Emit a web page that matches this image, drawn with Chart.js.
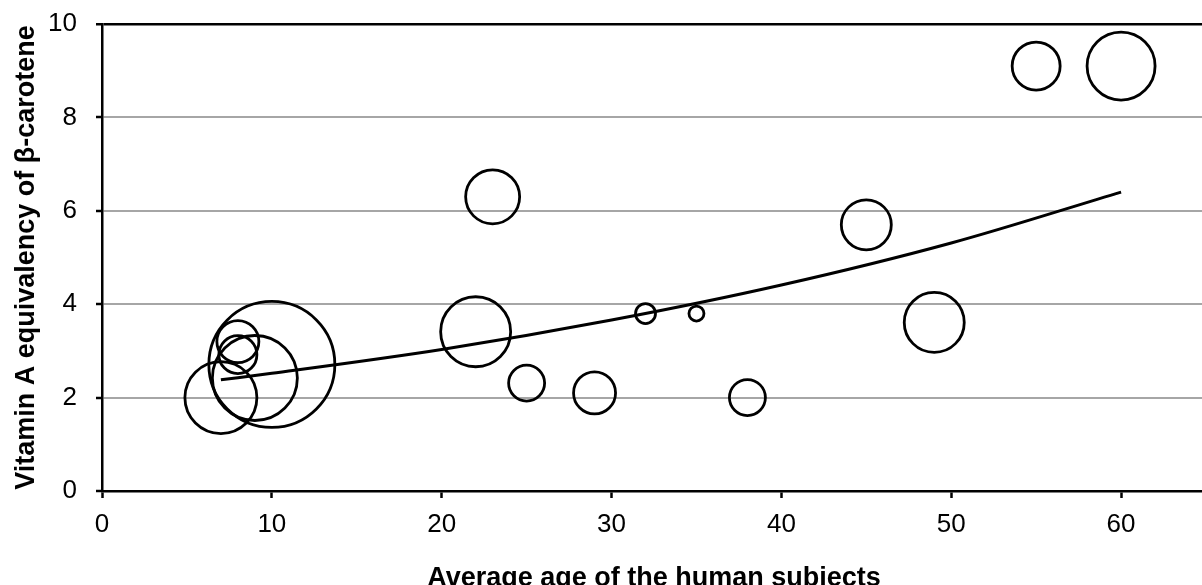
<!DOCTYPE html>
<html>
<head>
<meta charset="utf-8">
<script src="https://cdn.jsdelivr.net/npm/chart.js@4"></script>
<style>
  html, body { margin: 0; padding: 0; background: #fff; overflow: hidden; }
  #wrap { position: absolute; left: 0; top: 0; width: 1206px; height: 595px; }
</style>
</head>
<body>
<div id="wrap"><canvas id="bubbleChart"></canvas></div>
<script>
// values
const ages = [7, 10, 9, 8, 8, 22, 23, 25, 29, 32, 35, 38, 45, 49, 55, 60];
const equivalency = [2.0, 2.71, 2.42, 3.2, 2.92, 3.41, 6.3, 2.31, 2.1, 3.8, 3.8, 2.0, 5.7, 3.61, 9.1, 9.1];
const bubbleSize = [36, 63, 42.5, 21, 19, 35, 27, 18, 21, 10, 7.5, 18, 25, 30, 24, 34];
const trendAge = [7, 10, 20, 30, 40, 50, 60];
const trendValue = [2.38, 2.52, 3.03, 3.66, 4.41, 5.31, 6.40];
const xTicks = [0, 10, 20, 30, 40, 50, 60];
const yTicks = [0, 2, 4, 6, 8, 10];

const font = "'Liberation Sans', Arial, sans-serif";
const H = 595;

let bubbles = ages.map((a, i) => ({ x: a, y: equivalency[i], r: bubbleSize[i] }));
let trend = trendAge.map((a, i) => ({ x: a, y: trendValue[i] }));

window.onload = function() {
  let ctx = document.getElementById('bubbleChart');
  new Chart(ctx, {
    type: 'bubble',
    data: {
      datasets: [{
        type: 'line',
        label: 'trend',
        data: trend,
        borderColor: '#000',
        borderWidth: 3,
        pointRadius: 0,
        fill: false,
        cubicInterpolationMode: 'monotone'
      }, {
        label: 'studies',
        data: bubbles,
        backgroundColor: 'rgba(0,0,0,0)',
        borderColor: '#000',
        borderWidth: 2.8,
        hoverBorderWidth: 2.8,
        clip: false
      }]
    },
    options: {
      responsive: true,
      maintainAspectRatio: false,
      animation: false,
      layout: { autoPadding: false, padding: { top: 24, left: 0, right: 0, bottom: 0 } },
      plugins: { legend: { display: false }, tooltip: { enabled: false } },
      scales: {
        x: {
          type: 'linear',
          min: 0,
          max: 65,
          afterBuildTicks: s => { s.ticks = xTicks.map(v => ({ value: v })); },
          afterFit: s => { s.height = H - 491; s.paddingLeft = 0; s.paddingRight = 0; },
          ticks: { color: '#000', font: { family: font, size: 26 }, padding: 11, maxRotation: 0 },
          grid: { drawOnChartArea: false, tickLength: 7, tickColor: '#000', tickWidth: 2.5 },
          border: { color: '#000', width: 2.5 },
          title: {
            display: true,
            text: 'Average age of the human subjects',
            color: '#000',
            font: { family: font, size: 27, weight: 'bold' },
            padding: { top: 6.5, bottom: 0 }
          }
        },
        y: {
          min: 0,
          max: 10,
          afterBuildTicks: s => { s.ticks = yTicks.map(v => ({ value: v })); },
          afterFit: s => { s.width = 102; s.paddingTop = 0; s.paddingBottom = 0; },
          ticks: { color: '#000', font: { family: font, size: 26 }, padding: 19 },
          grid: {
            color: c => (c.tick && c.tick.value === 10) ? '#000' : '#a6a6a6',
            lineWidth: c => (c.tick && c.tick.value === 10) ? 2.5 : 2,
            tickLength: 6,
            tickColor: '#000',
            tickWidth: 2.5
          },
          border: { color: '#000', width: 2.5 },
          title: {
            display: true,
            text: 'Vitamin A equivalency of β-carotene',
            color: '#000',
            font: { family: font, size: 27, weight: 'bold' },
            padding: { top: 10, bottom: 0 }
          }
        }
      }
    }
  });
};
</script>
</body>
</html>
